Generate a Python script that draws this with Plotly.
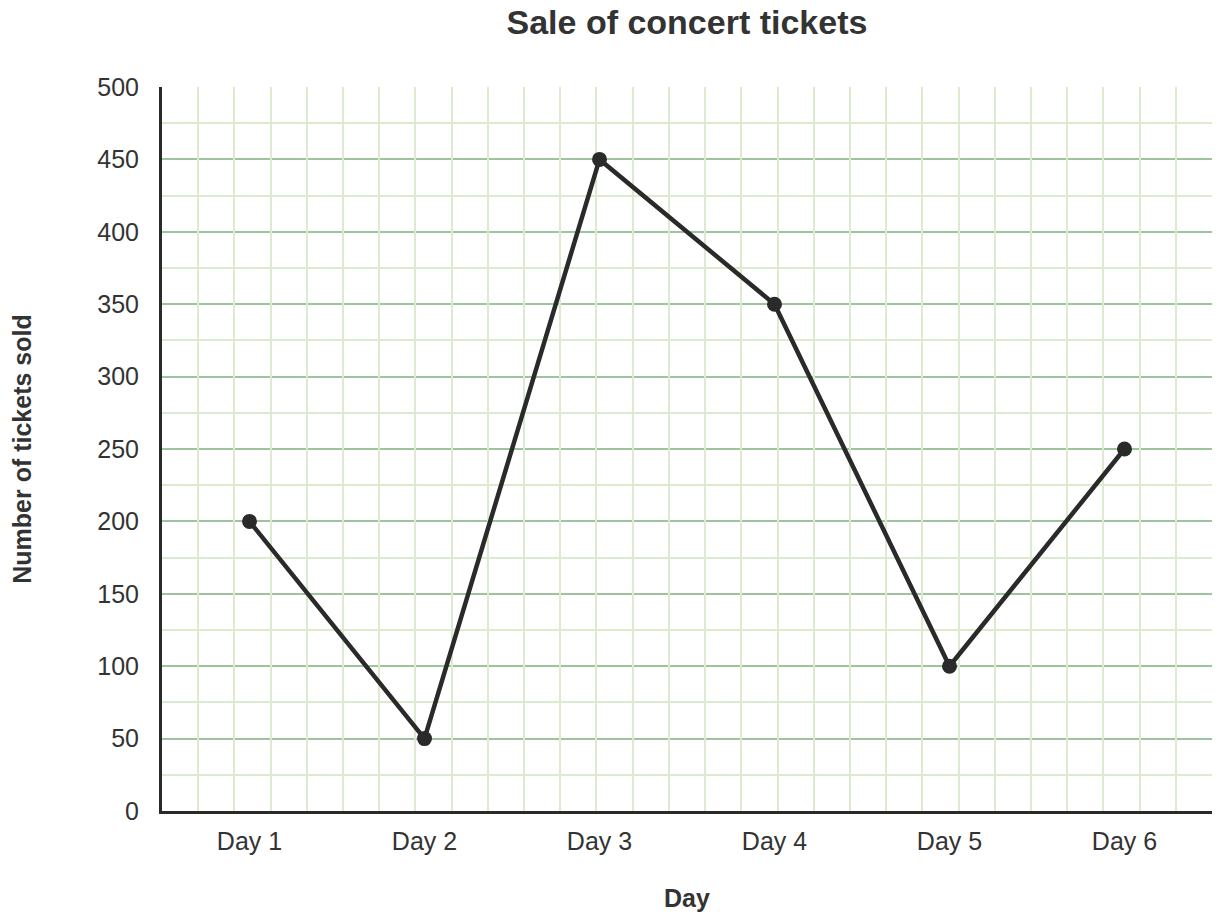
import plotly.graph_objects as go

days = ["Day 1", "Day 2", "Day 3", "Day 4", "Day 5", "Day 6"]
tickets = [200, 50, 450, 350, 100, 250]

MAJOR = "#9ec49d"
MINOR = "#dcebcf"
DARK = "#2a2a2a"
FONT = "Liberation Sans, Arial, sans-serif"

fig = go.Figure()
# empty trace to carry the square vertical grid axis
fig.add_trace(go.Scatter(x=[], y=[], xaxis="x2", yaxis="y", showlegend=False, hoverinfo="skip"))
fig.add_trace(go.Scatter(
    x=days, y=tickets, mode="lines+markers",
    line=dict(color=DARK, width=4.5),
    marker=dict(color=DARK, size=15),
    showlegend=False,
))

fig.update_layout(
    width=1212, height=910,
    margin=dict(l=154, r=8, t=79, b=107),
    paper_bgcolor="white", plot_bgcolor="white",
    font=dict(family=FONT, color="#333333", size=26),
    title=dict(text="<b>Sale of concert tickets</b>", x=0.5602, xanchor="center",
               y=0.985, yanchor="middle", yref="container", font=dict(size=34, color="#333333")),
    xaxis=dict(
        type="category", range=[-0.5, 5.5], showgrid=False, zeroline=False,
        showline=True, linecolor=DARK, linewidth=3, ticks="",
        ticklabelstandoff=6, tickfont=dict(size=25),
        title=dict(text="<b>Day</b>", standoff=36, font=dict(size=25)),
    ),
    xaxis2=dict(
        overlaying="x", range=[0, 29], dtick=1, tick0=0, showgrid=True,
        gridcolor=MINOR, gridwidth=2, showticklabels=False, zeroline=False,
        showline=False, ticks="", layer="below traces",
    ),
    yaxis=dict(
        range=[0, 500], dtick=50, tick0=0, showgrid=True, gridcolor=MAJOR, gridwidth=2,
        minor=dict(dtick=25, showgrid=True, gridcolor=MINOR, gridwidth=2),
        zeroline=False, showline=True, linecolor=DARK, linewidth=3, ticks="",
        ticklabelstandoff=15, tickfont=dict(size=25),
        title=dict(text="<b>Number of tickets sold</b>", standoff=62, font=dict(size=25)),
    ),
)

fig.write_html("out.html")
